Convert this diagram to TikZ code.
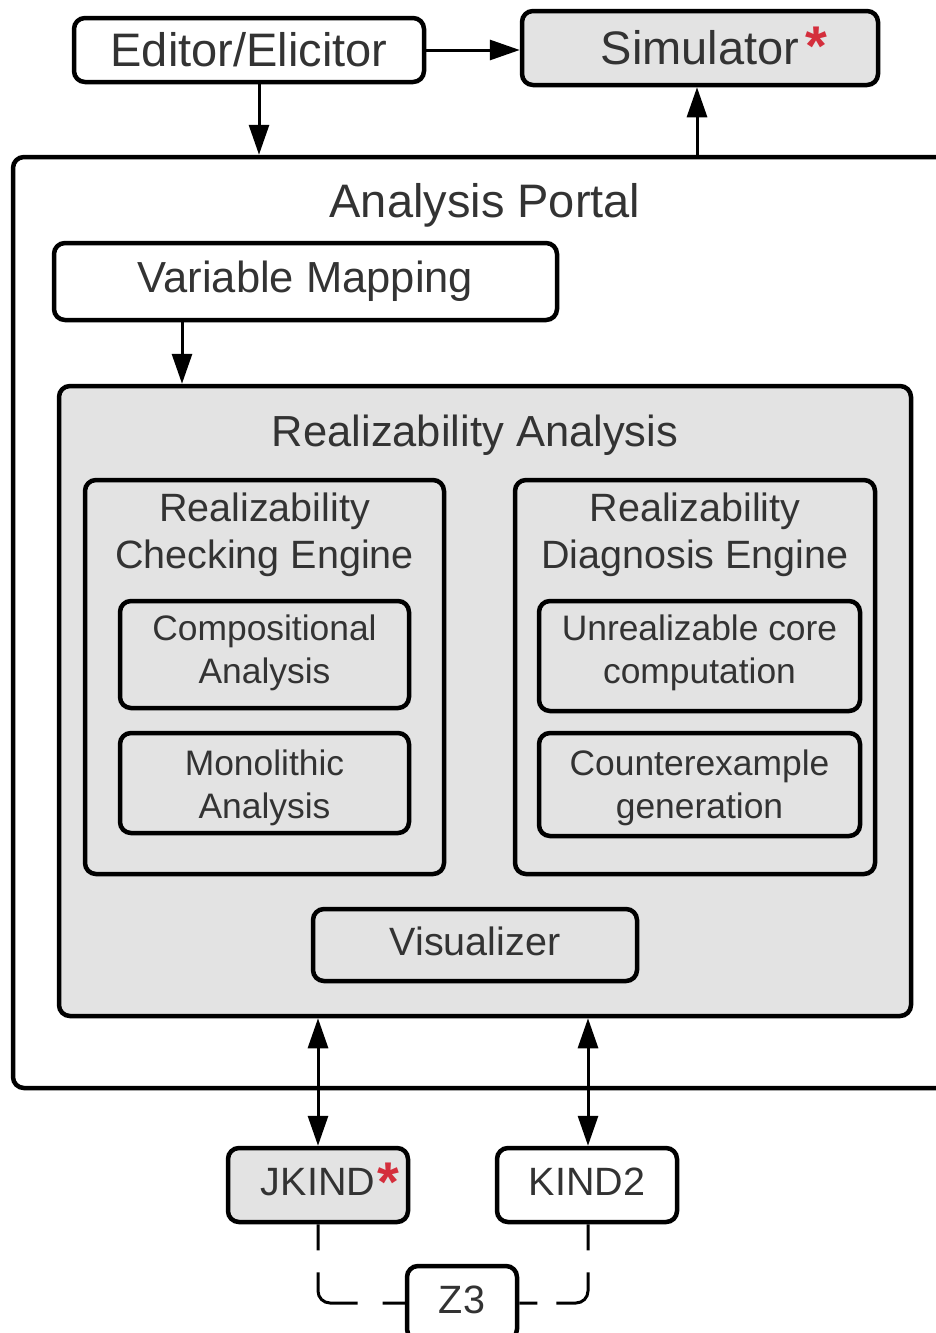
\documentclass[tikz,border=0pt]{standalone}
\usepackage{fontspec}
\setmainfont{Liberation Sans}
\usetikzlibrary{arrows.meta}
\definecolor{boxgray}{HTML}{E3E3E3}
\definecolor{ink}{HTML}{333333}
\definecolor{starred}{HTML}{D42E3C}
% red marker placed after a label without shifting its centre
\newcommand{\redmark}[2]{\rlap{\hspace{#1}\smash{\raisebox{#2}{\fontsize{56}{56}\selectfont\bfseries\color{starred}*}}}}
\tikzset{
  box/.style={draw=black, line width=4.5pt, rounded corners=11pt, inner sep=0pt,
              text=ink, align=center},
  gbox/.style={box, fill=boxgray},
  title/.style={text=ink, inner sep=0pt, align=center},
  fA/.style={font=\fontsize{47}{56}\selectfont},
  fA2/.style={font=\fontsize{43.5}{52}\selectfont},
  fB/.style={font=\fontsize{43.5}{52}\selectfont},
  fC/.style={font=\fontsize{39.5}{47}\selectfont},
  fD/.style={font=\fontsize{35.4}{43}\selectfont},
  arr/.style={line width=3pt, -{Triangle[length=30pt,width=20pt]}},
  darr/.style={line width=3pt, {Triangle[length=30pt,width=20pt]}-{Triangle[length=30pt,width=20pt]}},
  dashline/.style={line width=3pt, rounded corners=12pt},
}
\begin{document}
\begin{tikzpicture}[x=1pt, y=-1pt]
\useasboundingbox (0,0) rectangle (936,1333);
\clip (0,0) rectangle (936,1333);

% top row
\node[box, fA, minimum width=350pt, minimum height=64pt] (ed) at (249,50) {Editor/Elicitor};
\node[gbox, fA, minimum width=356pt, minimum height=74pt] (sim) at (700,48) {Simulator\redmark{6pt}{-1pt}};

% analysis portal (runs past the right edge)
\node[box, minimum width=967pt, minimum height=931pt] (portal) at (496.5,622.5) {};
\node[title, fA] (portalT) at (485,205) {Analysis Portal};

\node[box, fA2, minimum width=503pt, minimum height=77pt] (vm) at (305.5,281.5) {Variable Mapping};

% realizability analysis
\node[gbox, minimum width=852pt, minimum height=630pt] (ra) at (485,701) {};
\node[title, fB] (raT) at (475,435) {Realizability Analysis};

\node[gbox, minimum width=359pt, minimum height=394pt] (ce) at (264.5,677) {};
\node[title, fC] (ceT) at (264.5,535) {Realizability\\Checking Engine};
\node[gbox, minimum width=289pt, minimum height=107pt] (ca) at (264.5,654.5) {};
\node[title, fD] (caT) at ([yshift=2pt]ca.center) {Compositional\\Analysis};
\node[gbox, minimum width=289pt, minimum height=100pt] (ma) at (264.5,783) {};
\node[title, fD] (maT) at ([yshift=-5pt]ma.center) {Monolithic\\Analysis};

\node[gbox, minimum width=360pt, minimum height=394pt] (de) at (695,677) {};
\node[title, fC] (deT) at (695,535) {Realizability\\Diagnosis Engine};
\node[gbox, minimum width=321pt, minimum height=110pt] (uc) at (699.5,656) {};
\node[title, fD] (ucT) at ([yshift=3pt]uc.center) {Unrealizable core\\computation};
\node[gbox, minimum width=321pt, minimum height=103pt] (cg) at (699.5,784.5) {};
\node[title, fD] (cgT) at ([yshift=-3pt]cg.center) {Counterexample\\generation};

\node[gbox, fC, text depth=8pt, minimum width=324pt, minimum height=72pt] (vis) at (475,945) {Visualizer};

% back-end solvers
\node[gbox, fC, text depth=6pt, minimum width=180pt, minimum height=74pt] (jk) at (318,1185) {JKIND\redmark{2pt}{-6pt}};
\node[box, fill=white, fC, text depth=6pt, minimum width=180pt, minimum height=74pt] (k2) at (587,1185) {KIND2};
\node[box, fill=white, fC, text depth=6pt, minimum width=110pt, minimum height=74pt] (z3) at (462,1303) {Z3};

% connectors
\draw[arr] (ed.east) -- (sim.west |- ed.east);
\draw[arr] ([xshift=10pt]ed.south) -- ([xshift=10pt]ed.south |- portal.north);
\draw[arr] ([xshift=-3pt]sim.south |- portal.north) -- ([xshift=-3pt]sim.south);
\draw[arr] ([xshift=-123.5pt]vm.south) -- ([xshift=-123.5pt]vm.south |- ra.north);
\draw[darr] (jk.north |- ra.south) -- (jk.north);
\draw[darr] ([xshift=1pt]k2.north |- ra.south) -- ([xshift=1pt]k2.north);
\draw[dashline, dash pattern=on 26pt off 22pt on 65pt off 25pt on 60pt]
  (jk.south) |- (z3.west);
\draw[dashline, dash pattern=on 26pt off 22pt on 57pt off 19pt on 60pt]
  ([xshift=1pt]k2.south) |- (z3.east);
\end{tikzpicture}
\end{document}
